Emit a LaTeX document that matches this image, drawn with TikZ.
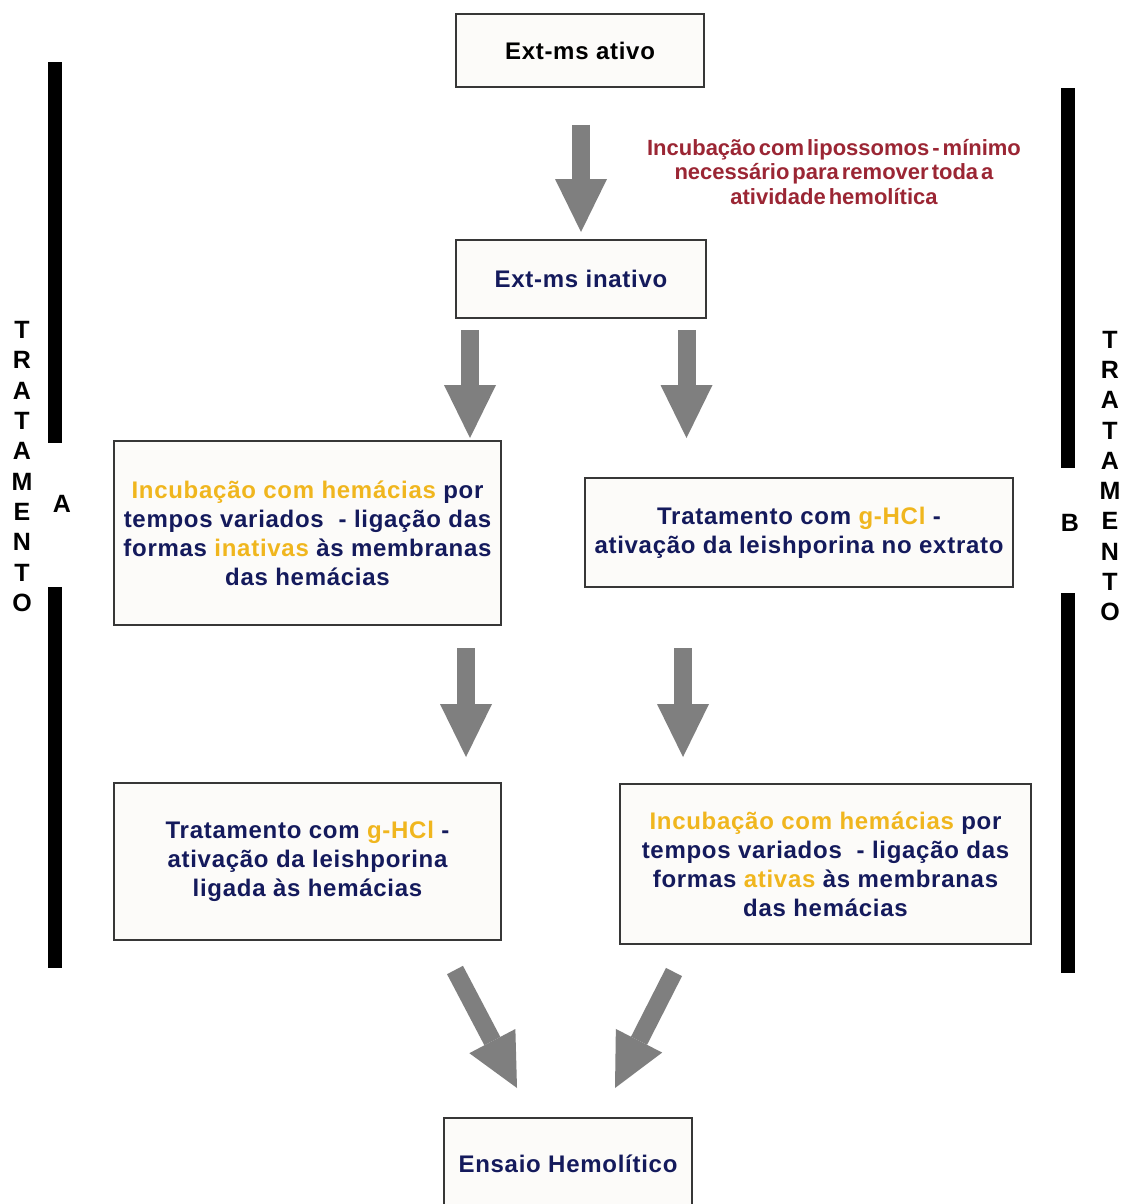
\documentclass[tikz,border=0pt]{standalone}
\usepackage{fontspec}
\setmainfont{Liberation Sans}
\newfontfamily\spacedsans[LetterSpace=3.0]{Liberation Sans}
\usetikzlibrary{arrows.meta}
\definecolor{navy}{RGB}{20,26,92}
\definecolor{gold}{RGB}{240,182,30}
\definecolor{darkred}{RGB}{155,38,52}
\definecolor{agray}{RGB}{127,127,127}
\definecolor{boxfill}{RGB}{252,251,249}
\definecolor{boxline}{RGB}{55,55,55}
\newcommand{\gd}[1]{\textcolor{gold}{#1}}
\newcommand{\redfont}{\bfseries\fontsize{22}{24.5}\selectfont\spaceskip=3pt\relax}
\begin{document}
\begin{tikzpicture}[x=1pt,y=-1pt,
  box/.style={draw=boxline, line width=2pt, fill=boxfill, align=center, inner sep=2pt,
    text=navy, font=\spacedsans\bfseries\fontsize{24}{29}\selectfont},
  bigarrow/.style={draw=agray, line width=18pt,
    -{Triangle[width=52pt,length=53pt,line width=0pt]}},
  bar/.style={fill=black},
  vlabel/.style={align=center, inner sep=0pt, text=black,
    font=\bfseries\fontsize{25}{30.3}\selectfont}
]
\useasboundingbox (0,0) rectangle (1123,1204);
\fill[white] (0,0) rectangle (1123,1204);

% boxes
\node[box, minimum width=248pt, minimum height=73pt, text=black] (n1) at (580,50.5) {Ext-ms ativo};
\node[box, minimum width=250pt, minimum height=78pt] (n2) at (581,279) {Ext-ms inativo};
\node[box, minimum width=387pt, minimum height=184pt] (n3) at (307.5,533)
  {\gd{Incubação com hemácias} por\\tempos variados\ \ - ligação das\\formas \gd{inativas} às membranas\\das hemácias};
\node[box, minimum width=428pt, minimum height=109pt] (n4) at (799,532.5)
  {Tratamento com \gd{g-HCl} -\\ativação da leishporina no extrato};
\node[box, minimum width=387pt, minimum height=157pt] (n5) at (307.5,861.5)
  {Tratamento com \gd{g-HCl} -\\ativação da leishporina\\ligada às hemácias};
\node[box, minimum width=411pt, minimum height=160pt] (n6) at (825.5,864)
  {\gd{Incubação com hemácias} por\\tempos variados\ \ - ligação das\\formas \gd{ativas} às membranas\\das hemácias};
\node[box, minimum width=248pt, minimum height=92pt] (n7) at (568,1164) {Ensaio Hemolítico};

% red note
\node[align=center, text=darkred, inner sep=0pt, font=\redfont] (note) at (834,172)
  {Incubação com lipossomos - mínimo\\necessário para remover toda a\\atividade hemolítica};

% arrow end points
\coordinate (a1s) at (581,125);   \coordinate (a1e) at (581,232);
\coordinate (a2ls) at (470,330);  \coordinate (a2le) at (470,438);
\coordinate (a2rs) at (686.5,330);\coordinate (a2re) at (686.5,438);
\coordinate (a3ls) at (466,648);  \coordinate (a3le) at (466,757);
\coordinate (a3rs) at (683,648);  \coordinate (a3re) at (683,757);
\coordinate (a4ls) at (455,970);  \coordinate (a4le) at (517,1088);
\coordinate (a4rs) at (674,972);  \coordinate (a4re) at (615,1088);

\draw[bigarrow] (a1s) -- (a1e);
\draw[bigarrow] (a2ls) -- (a2le);
\draw[bigarrow] (a2rs) -- (a2re);
\draw[bigarrow] (a3ls) -- (a3le);
\draw[bigarrow] (a3rs) -- (a3re);
\draw[bigarrow] (a4ls) -- (a4le);
\draw[bigarrow] (a4rs) -- (a4re);

% side bars
\fill[bar] (48,62) rectangle (62,443);
\fill[bar] (48,587) rectangle (62,968);
\fill[bar] (1061,88) rectangle (1075,468);
\fill[bar] (1061,593) rectangle (1075,973);

% side labels
\node[vlabel] (tA) at (22,466.5) {T\\R\\A\\T\\A\\M\\E\\N\\T\\O};
\node[vlabel] (tB) at (1110,476) {T\\R\\A\\T\\A\\M\\E\\N\\T\\O};
\node[vlabel] (lA) at (62,504) {A};
\node[vlabel] (lB) at (1070,523) {B};
\end{tikzpicture}
\end{document}
